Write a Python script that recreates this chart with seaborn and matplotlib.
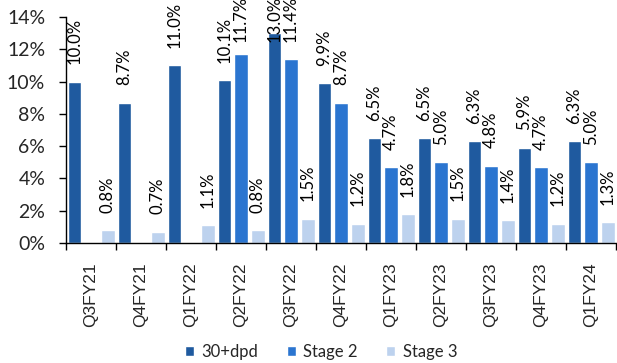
import numpy as np
import pandas as pd
import matplotlib
matplotlib.use("Agg")
import matplotlib.pyplot as plt
from matplotlib.ticker import FixedLocator, FuncFormatter
import seaborn as sns

quarters = ["Q3FY21", "Q4FY21", "Q1FY22", "Q2FY22", "Q3FY22", "Q4FY22",
            "Q1FY23", "Q2FY23", "Q3FY23", "Q4FY23", "Q1FY24"]
dpd30 = [10.0, 8.7, 11.0, 10.1, 13.0, 9.9, 6.5, 6.5, 6.3, 5.9, 6.3]
stage2 = [None, None, None, 11.7, 11.4, 8.7, 4.7, 5.0, 4.8, 4.7, 5.0]
stage3 = [0.8, 0.7, 1.1, 0.8, 1.5, 1.2, 1.8, 1.5, 1.4, 1.2, 1.3]
series_names = ["30+dpd", "Stage 2", "Stage 3"]
colors = ["#1F5A9F", "#2B75D0", "#BDD2EE"]

rows = []
for name, vals in zip(series_names, [dpd30, stage2, stage3]):
    for q, v in zip(quarters, vals):
        if v is not None:
            rows.append({"quarter": q, "series": name, "value": v})
df = pd.DataFrame(rows)

sns.set_style("white")
plt.rcParams["font.family"] = ["Lato", "DejaVu Sans"]

fig = plt.figure(figsize=(6.17, 3.63), dpi=100)
ax = fig.add_axes([66 / 617, 1 - 243 / 363, 550 / 617, (243 - 17) / 363])

sns.barplot(data=df, x="quarter", y="value", hue="series", order=quarters,
            hue_order=series_names, palette=colors, width=1.0, gap=0.18,
            errorbar=None, saturation=1, ax=ax)

value_labels = []
for cont in ax.containers:
    value_labels += ax.bar_label(cont, fmt="{:.1f}%", rotation=90, padding=12.5,
                                 fontsize=12, color="black")

ax.set_xlim(-0.5, len(quarters) - 0.5)
ax.set_ylim(0, 14)
ax.set_yticks(np.arange(0, 15, 2))
ax.yaxis.set_major_formatter(FuncFormatter(lambda v, p: f"{v:.0f}%"))
ax.tick_params(axis="y", direction="out", length=5, width=1, pad=10,
               labelsize=14, color="black", left=True)
ax.xaxis.set_minor_locator(FixedLocator(np.arange(-0.5, len(quarters), 1)))
ax.tick_params(axis="x", which="major", length=0, pad=14)
ax.tick_params(axis="x", which="minor", direction="out", length=5, width=1,
               color="black", bottom=True)
for lbl in ax.get_xticklabels():
    lbl.set_rotation(90)
    lbl.set_fontfamily(["Liberation Sans", "DejaVu Sans"])
    lbl.set_fontsize(12.5)
    lbl.set_va("top")
    lbl.set_ha("center")

ax.set_xlabel("")
ax.set_ylabel("")
for side in ["top", "right"]:
    ax.spines[side].set_visible(False)
for side in ["left", "bottom"]:
    ax.spines[side].set_color("black")
    ax.spines[side].set_linewidth(1)

handles, labels = ax.get_legend_handles_labels()
ax.get_legend().remove()
fig.legend(handles, labels, loc="center", bbox_to_anchor=(321 / 617, 1 - 352 / 363),
           ncol=3, frameon=False, fontsize=12, handlelength=0.55, handleheight=0.55,
           handletextpad=0.45, columnspacing=1.7)

# keep value labels from running far past the top of the chart area
fig.canvas.draw()
renderer = fig.canvas.get_renderer()
limit = fig.bbox.height + 4
for t in value_labels:
    bb = t.get_window_extent(renderer)
    if bb.y1 > limit:
        dx, dy = t.xyann
        t.xyann = (dx, dy - (bb.y1 - limit) * 72 / fig.dpi)

fig.savefig("out.png", dpi=100)
